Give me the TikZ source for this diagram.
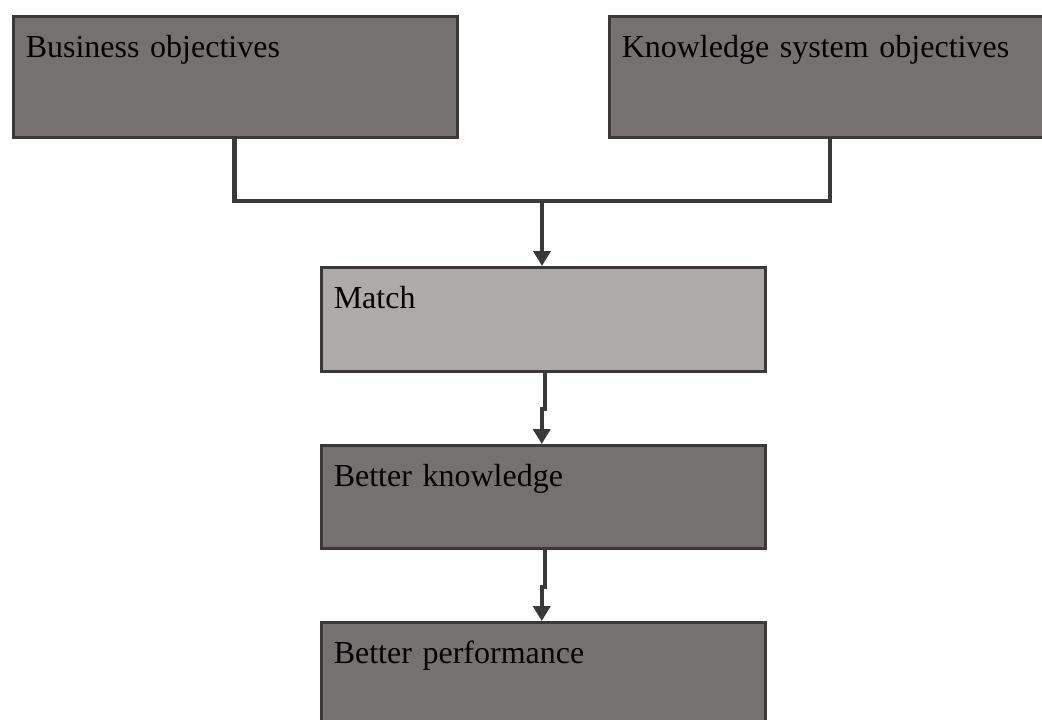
\documentclass[tikz,border=0pt]{standalone}
\usepackage{fontspec}
\setmainfont{Liberation Serif}
\usetikzlibrary{arrows.meta}
\definecolor{boxdark}{HTML}{757171}
\definecolor{boxlight}{HTML}{AEAAAA}
\definecolor{edgecol}{HTML}{3B3838}
\begin{document}
\begin{tikzpicture}[x=1pt,y=-1pt,
  box/.style={draw=edgecol, line width=2.5pt, anchor=north west,
    inner xsep=12.5pt, inner ysep=0pt, text height=41pt,
    align=left, font=\fontsize{32pt}{38pt}\selectfont},
  dark/.style={box, fill=boxdark},
  light/.style={box, fill=boxlight},
  conn/.style={draw=edgecol, line width=4.5pt},
  arr/.style={conn, -{Triangle[length=15pt,width=17pt]}}]
\useasboundingbox (0,0) rectangle (1042,720);
\clip (0,0) rectangle (1042,720);

% objectives
\node[dark, text width=419pt, text depth=80pt] (bus) at (12,15) {Business objectives};
\node[dark, text width=425pt, text depth=80pt] (kso) at (608,15) {Knowledge system objectives};

% chain
\node[light, text width=419pt, text depth=63pt] (match) at (320,266) {Match};
\node[dark, text width=419pt, text depth=62pt] (bk) at (320,444) {Better knowledge};
\node[dark, text width=419pt, text depth=80pt] (bp) at (320,621) {Better performance};

% joining the two objectives
\coordinate (join) at (542,201);
\draw[conn] ([xshift=222.5pt]bus.south west) |- (join) -| ([xshift=222pt]kso.south west);
\draw[arr] (join) -- (join |- match.north);

% downward arrows
\draw[arr] ([xshift=1.5pt]match.south) -- ++(0,36.5) -- ++(-3,0) -- ([xshift=-1.5pt]bk.north);
\draw[arr] ([xshift=1.5pt]bk.south) -- ++(0,37.5) -- ++(-3,0) -- ([xshift=-1.5pt]bp.north);
\end{tikzpicture}
\end{document}
